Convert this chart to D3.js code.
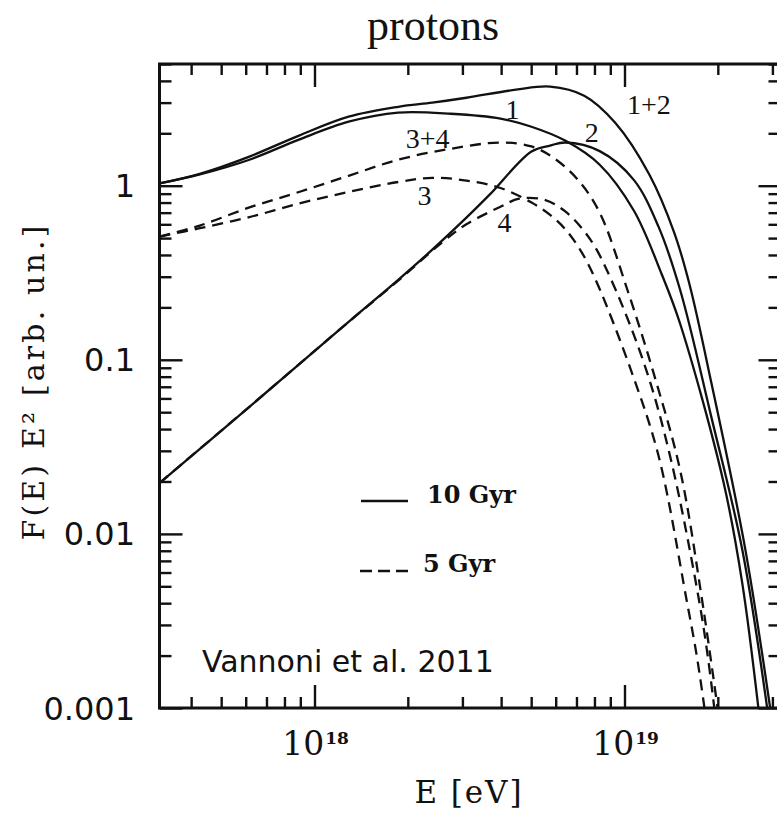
<!DOCTYPE html>
<html>
<head>
<meta charset="utf-8">
<script src="https://cdn.jsdelivr.net/npm/d3@7"></script>
<style>
  body { margin: 0; background: #fff; }
</style>
</head>
<body>
<div id="chart"></div>
<script>
// log10(E / eV) and F(E) E^2
const logE1 = [17.5, 17.63, 17.79, 17.95, 18.11, 18.27, 18.44, 18.6, 18.7, 18.81, 18.92, 19.03, 19.12, 19.18, 19.32, 19.38, 19.44];
const flux1 = [1.03, 1.16, 1.41, 1.84, 2.33, 2.63, 2.59, 2.43, 2.18, 1.81, 1.32, 0.72, 0.31, 0.16, 0.0196, 0.0052, 0.00075];

const logE2 = [17.5, 17.79, 18.11, 18.27, 18.38, 18.49, 18.565, 18.7, 18.76, 18.81, 18.92, 19.03, 19.11, 19.18, 19.28, 19.38, 19.47];
const flux2 = [0.0196, 0.0537, 0.165, 0.288, 0.429, 0.655, 0.888, 1.57, 1.7, 1.77, 1.58, 1.08, 0.58, 0.25, 0.047, 0.0081, 0.00075];

const logE12 = [17.5, 17.63, 17.79, 17.95, 18.11, 18.27, 18.38, 18.49, 18.65, 18.76, 18.87, 18.97, 19.08, 19.16, 19.21, 19.28, 19.39, 19.48];
const flux12 = [1.03, 1.17, 1.47, 1.94, 2.49, 2.84, 3.0, 3.2, 3.56, 3.71, 3.29, 2.3, 1.16, 0.54, 0.27, 0.074, 0.0081, 0.00075];

const logE3 = [17.5, 17.63, 17.79, 17.95, 18.11, 18.27, 18.38, 18.49, 18.6, 18.7, 18.76, 18.81, 18.86, 18.91, 19.02, 19.11, 19.2, 19.235, 19.275];
const flux3 = [0.51, 0.57, 0.66, 0.79, 0.92, 1.05, 1.11, 1.07, 0.97, 0.8, 0.68, 0.56, 0.42, 0.28, 0.088, 0.028, 0.0042, 0.0019, 0.0006];

const logE4 = [17.5, 17.79, 18.11, 18.27, 18.41, 18.49, 18.6, 18.66, 18.74, 18.81, 18.89, 18.96, 19.07, 19.15, 19.24, 19.27, 19.3];
const flux4 = [0.0196, 0.0537, 0.165, 0.285, 0.47, 0.6, 0.757, 0.842, 0.831, 0.709, 0.49, 0.281, 0.0876, 0.0266, 0.0042, 0.0019, 0.0007];

const logE34 = [17.5, 17.63, 17.79, 17.95, 18.11, 18.27, 18.44, 18.6, 18.7, 18.77, 18.85, 18.92, 19.01, 19.1, 19.18, 19.25, 19.31];
const flux34 = [0.51, 0.59, 0.75, 0.92, 1.14, 1.41, 1.63, 1.77, 1.68, 1.45, 1.08, 0.7, 0.25, 0.077, 0.023, 0.0042, 0.00075];

// curve labels: text, log10 E, F
const curveLabels = ["1", "1+2", "2", "3+4", "3", "4"];
const labelLogE = [18.639, 19.079, 18.894, 18.365, 18.355, 18.613];
const labelFlux = [2.43, 2.59, 1.79, 1.65, 0.77, 0.544];

const yTickValues = [0.001, 0.01, 0.1, 1];
const yTickLabels = ["0.001", "0.01", "0.1", "1"];
const xTickValues = [1e18, 1e19];
const xTickExps = ["18", "19"];

const width = 777, height = 814;
const pLeft = 159.5, pRight = 779.5, pTop = 64, pBottom = 708;

const svg = d3
  .select("#chart")
  .append("svg")
  .attr("width", width)
  .attr("height", height);

const x = d3.scaleLog().domain([Math.pow(10, 17.5), Math.pow(10, 19.5)]).range([pLeft, pRight]);
const y = d3.scaleLog().domain([0.001, 5]).range([pBottom, pTop]);

const isMajor = (d) => Math.abs(Math.log10(d) - Math.round(Math.log10(d))) < 1e-9;

// ticks pointing inwards on all four sides
function styleTicks(g, attr, sign, big, small) {
  g.select(".domain").remove();
  g.selectAll(".tick text").remove();
  g.selectAll(".tick line")
    .attr(attr, (d) => sign * (isMajor(d) ? big : small))
    .attr("stroke", "#111")
    .attr("stroke-width", 2.4);
}

svg.append("g").attr("transform", `translate(0,${pBottom})`)
  .call(d3.axisTop(x).tickValues(x.ticks()))
  .call((g) => styleTicks(g, "y2", -1, 23, 11));
svg.append("g").attr("transform", `translate(0,${pTop})`)
  .call(d3.axisBottom(x).tickValues(x.ticks()))
  .call((g) => styleTicks(g, "y2", 1, 23, 11));
svg.append("g").attr("transform", `translate(${pLeft},0)`)
  .call(d3.axisRight(y).tickValues(y.ticks()))
  .call((g) => styleTicks(g, "x2", 1, 23, 12));
svg.append("g").attr("transform", `translate(${pRight},0)`)
  .call(d3.axisLeft(y).tickValues(y.ticks()))
  .call((g) => styleTicks(g, "x2", -1, 21, 11));

// frame
svg.append("rect")
  .attr("x", pLeft).attr("y", pTop)
  .attr("width", pRight - pLeft).attr("height", pBottom - pTop)
  .attr("fill", "none").attr("stroke", "#111").attr("stroke-width", 3);

// curves
svg.append("clipPath").attr("id", "plot")
  .append("rect").attr("x", pLeft).attr("y", pTop)
  .attr("width", pRight - pLeft).attr("height", pBottom - pTop);

const line = d3.line()
  .x((d) => x(Math.pow(10, d[0])))
  .y((d) => y(d[1]))
  .curve(d3.curveCatmullRom.alpha(0.5));

const curves = [
  { e: logE1, f: flux1, dash: null },
  { e: logE2, f: flux2, dash: null },
  { e: logE12, f: flux12, dash: null },
  { e: logE3, f: flux3, dash: "11,7" },
  { e: logE4, f: flux4, dash: "11,7" },
  { e: logE34, f: flux34, dash: "11,7" },
];

svg.append("g").attr("clip-path", "url(#plot)")
  .selectAll("path")
  .data(curves)
  .enter()
  .append("path")
  .attr("d", (c) => line(c.e.map((v, i) => [v, c.f[i]])))
  .attr("fill", "none")
  .attr("stroke", "#111")
  .attr("stroke-width", 2.3)
  .attr("stroke-dasharray", (c) => c.dash);

svg.selectAll(".clabel")
  .data(curveLabels)
  .enter()
  .append("text")
  .attr("x", (d, i) => x(Math.pow(10, labelLogE[i])))
  .attr("y", (d, i) => y(labelFlux[i]))
  .attr("text-anchor", "middle")
  .attr("font-family", "Liberation Serif")
  .attr("font-size", 28)
  .attr("fill", "#111")
  .text((d) => d);

// tick labels
svg.selectAll(".ylab")
  .data(yTickValues)
  .enter()
  .append("text")
  .attr("x", 135)
  .attr("y", (d) => y(d))
  .attr("dy", "0.36em")
  .attr("text-anchor", "end")
  .attr("font-family", "DejaVu Sans")
  .attr("font-size", 32)
  .attr("fill", "#111")
  .text((d, i) => yTickLabels[i]);

const xl = svg.selectAll(".xlab")
  .data(xTickValues)
  .enter()
  .append("text")
  .attr("x", (d) => x(d) + 1)
  .attr("y", 755)
  .attr("text-anchor", "middle")
  .attr("font-family", "DejaVu Serif")
  .attr("fill", "#111");
xl.append("tspan").attr("font-size", 33).text("10");
xl.append("tspan").attr("font-size", 17).attr("font-weight", "bold")
  .attr("dy", -11).attr("dx", 1).text((d, i) => xTickExps[i]);

// titles
svg.append("text")
  .attr("x", 433).attr("y", 40)
  .attr("text-anchor", "middle")
  .attr("font-family", "Liberation Serif")
  .attr("font-size", 44)
  .attr("fill", "#111")
  .text("protons");

svg.append("text")
  .attr("x", 468).attr("y", 803)
  .attr("text-anchor", "middle")
  .attr("font-family", "DejaVu Serif")
  .attr("font-size", 31)
  .attr("textLength", 107)
  .attr("lengthAdjust", "spacing")
  .attr("fill", "#111")
  .text("E [eV]");

svg.append("text")
  .attr("transform", "translate(44,383) rotate(-90)")
  .attr("text-anchor", "middle")
  .attr("font-family", "DejaVu Serif")
  .attr("font-size", 30)
  .attr("textLength", 315)
  .attr("lengthAdjust", "spacing")
  .attr("fill", "#111")
  .text("F(E) E² [arb. un.]");

// legend
const legend = svg.append("g");
legend.append("line")
  .attr("x1", 361).attr("x2", 408).attr("y1", 501).attr("y2", 501)
  .attr("stroke", "#111").attr("stroke-width", 2.6);
legend.append("text")
  .attr("x", 427).attr("y", 503)
  .attr("font-family", "DejaVu Serif").attr("font-weight", "bold")
  .attr("font-size", 24).attr("fill", "#111")
  .text("10 Gyr");
legend.append("line")
  .attr("x1", 360).attr("x2", 408).attr("y1", 571).attr("y2", 571)
  .attr("stroke", "#111").attr("stroke-width", 2.6)
  .attr("stroke-dasharray", "12,6");
legend.append("text")
  .attr("x", 423).attr("y", 572)
  .attr("font-family", "DejaVu Serif").attr("font-weight", "bold")
  .attr("font-size", 24).attr("fill", "#111")
  .text("5 Gyr");

svg.append("text")
  .attr("x", 202).attr("y", 672)
  .attr("font-family", "DejaVu Sans")
  .attr("font-size", 30)
  .attr("fill", "#111")
  .text("Vannoni et al. 2011");
</script>
</body>
</html>
